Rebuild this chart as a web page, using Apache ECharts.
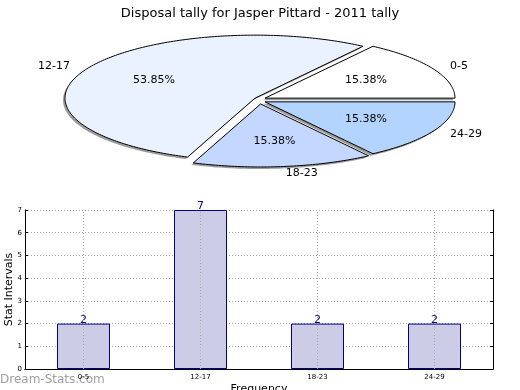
<!DOCTYPE html>
<html>
<head>
<meta charset="utf-8">
<script src="https://cdn.jsdelivr.net/npm/echarts@6/dist/echarts.min.js"></script>
<style>html,body{margin:0;padding:0;background:#fff}#c{width:520px;height:390px}</style>
</head>
<body>
<div id="c"></div>
<script>
const categories = ['0-5', '12-17', '18-23', '24-29'];
const values = [2, 7, 2, 2];
const yTickMin = 0, yTickMax = 7, yTickStep = 1;
const titleText = 'Disposal tally for Jasper Pittard - 2011 tally';
const yName = 'Stat Intervals';
const xName = 'Frequency';
const watermark = 'Dream-Stats.com';

// styles / layout
const sliceColors = ['#ffffff', '#ebf2ff', '#c4d8ff', '#b3d4ff'];
const PIE = { cx: 260, cy: 100, rx: 190, ry: 63, ex: 5.65, ey: 4.0, sdx: -2, sdy: 2 };
const FONT = 'DejaVu Sans';

const total = values.reduce((a, b) => a + b, 0);
function sliceAngles(i) {
  let before = 0;
  for (let k = 0; k < i; k++) before += values[k];
  const s = before / total * 2 * Math.PI;
  const e = (before + values[i]) / total * 2 * Math.PI;
  return { s, e, m: (s + e) / 2 };
}
function slicePoints(i, ox, oy) {
  const a = sliceAngles(i);
  const dx = PIE.ex * Math.cos(a.m) + ox;
  const dy = -PIE.ey * Math.sin(a.m) + oy;
  const pts = [[PIE.cx + dx, PIE.cy + dy]];
  const n = Math.max(8, Math.ceil((a.e - a.s) / (Math.PI / 180)));
  for (let k = 0; k <= n; k++) {
    const t = a.s + (a.e - a.s) * k / n;
    pts.push([PIE.cx + dx + PIE.rx * Math.cos(t), PIE.cy + dy - PIE.ry * Math.sin(t)]);
  }
  return { pts, a, dx, dy };
}

const chart = echarts.init(document.getElementById('c'), null, { renderer: 'canvas' });
const pieData = values.map((v, i) => [v, i]);

chart.setOption({
  animation: false,
  title: {
    text: titleText, left: 'center', top: 2,
    textStyle: { fontFamily: FONT, fontSize: 13, fontWeight: 'normal', color: '#000' }
  },
  grid: { left: 25, right: 27, top: 210, bottom: 21, outerBoundsMode: 'none', containLabel: false },
  xAxis: [{
    type: 'category', data: categories, position: 'bottom',
    axisLine: { lineStyle: { color: '#000', width: 1 } },
    axisTick: { inside: true, alignWithLabel: true, length: 3, lineStyle: { color: '#000' } },
    axisLabel: { fontFamily: FONT, fontSize: 7, color: '#000', margin: 5 },
    name: xName, nameLocation: 'middle', nameGap: 15, nameMoveOverlap: false,
    nameTextStyle: { fontFamily: FONT, fontSize: 11, color: '#000' },
    splitLine: { show: false }
  }, {
    type: 'category', data: categories, position: 'top',
    axisLine: { lineStyle: { color: '#000', width: 1 } },
    axisTick: { inside: true, alignWithLabel: true, length: 3, lineStyle: { color: '#000' } },
    axisLabel: { show: false }, splitLine: { show: false }
  }],
  yAxis: [{
    type: 'value', min: yTickMin, max: yTickMax, interval: yTickStep, position: 'left',
    axisLine: { show: true, lineStyle: { color: '#000', width: 1 } },
    axisTick: { show: true, inside: true, length: 3, lineStyle: { color: '#000' } },
    axisLabel: { fontFamily: FONT, fontSize: 7, color: '#000', margin: 3 },
    splitLine: { show: true, lineStyle: { color: '#aaa', type: [1, 2], width: 1 } },
    name: yName, nameLocation: 'middle', nameGap: 10, nameRotate: 90, nameMoveOverlap: false,
    nameTextStyle: { fontFamily: FONT, fontSize: 11, color: '#000' }
  }, {
    type: 'value', min: yTickMin, max: yTickMax, interval: yTickStep, position: 'right',
    axisLine: { show: true, lineStyle: { color: '#000', width: 1 } },
    axisTick: { show: true, inside: true, length: 3, lineStyle: { color: '#000' } },
    axisLabel: { show: false }, splitLine: { show: false }
  }],
  graphic: [{
    type: 'text', left: 0, top: 374,
    style: { text: watermark, fontFamily: FONT, fontSize: 12, fill: '#a0a0a0' }
  }],
  series: [
    {
      type: 'bar', xAxisIndex: 0, yAxisIndex: 0, data: values, barWidth: 53,
      itemStyle: { color: '#ccccE6', borderColor: '#000080', borderWidth: 1 },
      label: { show: true, position: 'top', distance: -2, color: '#000080', fontFamily: FONT, fontSize: 11 },
      markLine: {
        silent: true, symbol: ['none', 'none'], label: { show: false },
        lineStyle: { color: '#aaa', type: [1, 2], width: 1 },
        data: categories.map(c => ({ xAxis: c }))
      },
      z: 3
    },
    {
      type: 'custom', coordinateSystem: 'none', data: pieData, z: 1, silent: true,
      renderItem: function (params, api) {
        const i = api.value(1);
        const g = slicePoints(i, PIE.sdx, PIE.sdy);
        return { type: 'polygon', shape: { points: g.pts }, style: { fill: 'rgba(90,90,90,0.6)', stroke: null } };
      }
    },
    {
      type: 'custom', coordinateSystem: 'none', data: pieData, z: 2, silent: true,
      renderItem: function (params, api) {
        const i = api.value(1);
        const g = slicePoints(i, 0, 0);
        const pct = (api.value(0) / total * 100).toFixed(2) + '%';
        const cm = Math.cos(g.a.m), sm = Math.sin(g.a.m);
        const px = PIE.cx + g.dx + 0.6 * PIE.rx * cm;
        const py = PIE.cy + g.dy - 0.6 * PIE.ry * sm;
        const lx = PIE.cx + g.dx + 1.1 * PIE.rx * cm;
        const ly = PIE.cy + g.dy - 1.1 * PIE.ry * sm;
        return {
          type: 'group',
          children: [
            { type: 'polygon', shape: { points: g.pts }, style: { fill: sliceColors[i], stroke: '#000', lineWidth: 1 } },
            { type: 'text', x: px, y: py, style: { text: pct, fontFamily: FONT, fontSize: 11, fill: '#000', align: 'center', verticalAlign: 'middle' } },
            { type: 'text', x: lx, y: ly, style: { text: categories[i], fontFamily: FONT, fontSize: 11, fill: '#000', align: cm < 0 ? 'right' : 'left', verticalAlign: 'middle' } }
          ]
        };
      }
    }
  ]
});
</script>
</body>
</html>
